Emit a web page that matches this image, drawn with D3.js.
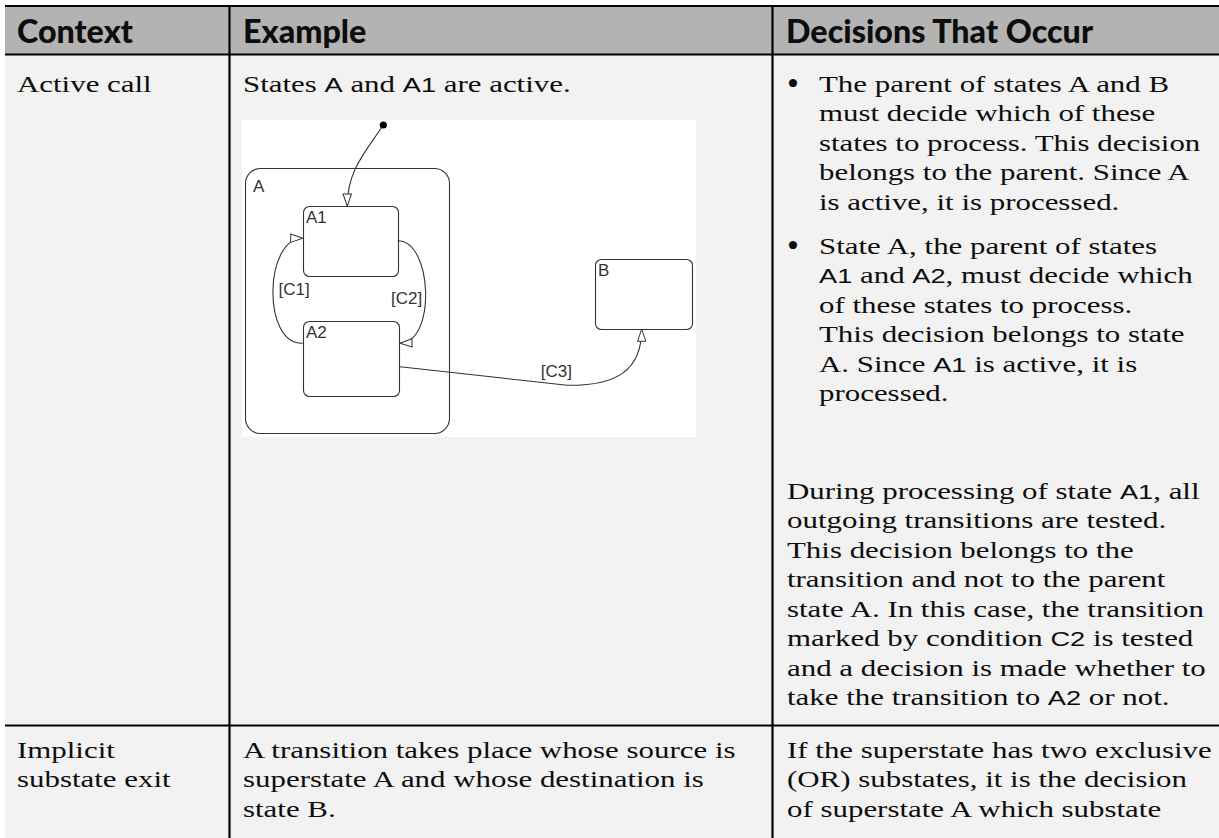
<!DOCTYPE html>
<html><head><meta charset="utf-8">
<script src="https://cdn.jsdelivr.net/npm/d3@7"></script>
<style>html,body{margin:0;padding:0;background:#fff;} svg{display:block;} text{white-space:pre;}</style>
</head><body>
<svg id="chart" width="1219" height="838"></svg>
<script>
// ---------- table content ----------
const headers = ["Context", "Example", "Decisions That Occur"];
const row1Context = ["Active call"];
const row1Example = ["States `A` and `A1` are active."];
const row1Bullet1 = ["The parent of states A and B", "must decide which of these", "states to process. This decision", "belongs to the parent. Since A", "is active, it is processed."];
const row1Bullet2 = ["State A, the parent of states", "`A1` and `A2`, must decide which", "of these states to process.", "This decision belongs to state", "A. Since `A1` is active, it is", "processed."];
const row1Para = ["During processing of state `A1`, all", "outgoing transitions are tested.", "This decision belongs to the", "transition and not to the parent", "state A. In this case, the transition", "marked by condition `C2` is tested", "and a decision is made whether to", "take the transition to `A2` or not."];
const row2Context = ["Implicit", "substate exit"];
const row2Example = ["A transition takes place whose source is", "superstate A and whose destination is", "state B."];
const row2Decision = ["If the superstate has two exclusive", "(OR) substates, it is the decision", "of superstate A which substate"];

// ---------- diagram content (diagram units) ----------
const stateNames = ["A", "A1", "A2", "B"];
const stateLeft = [3, 61, 61, 353];
const stateTop = [48, 86, 201, 139];
const stateRight = [207, 156, 157, 450];
const stateBottom = [313, 156, 276, 209];
const stateRadius = [15, 6, 6, 6];
const junction = [141.3, 5];
const transitionNames = ["default", "C1", "C2", "C3"];
const transitionPaths = [
  [[141.3, 5], [125, 30], [105, 50], [105.3, 86]],
  [[60.7, 223.3], [20, 225], [22, 118], [60.7, 118.3]],
  [[155.7, 120.7], [190, 120], [195, 222], [158, 223.3]],
  [[158, 246.7], [210, 252.5], [270, 259.2], [325, 265.3], [375, 266], [399.7, 250], [399.7, 209.3]]
];
const conditionLabels = ["[C1]", "[C2]", "[C3]"];
const conditionPos = [[52.2, 169.2], [164.7, 177.5], [314.3, 250.8]];

const SERIF = "'Liberation Serif', 'DejaVu Serif', 'Times New Roman', serif";
const SANS = "'Liberation Sans', Arial, sans-serif";
const HEAD = "Lato, 'Open Sans', sans-serif";

const svg = d3.select("#chart");
const W = 1219, H = 838;

const colX = d3.scaleOrdinal().domain(headers).range([5, 229.5, 772.5]);
const colText = d3.scaleOrdinal().domain(headers).range([17, 243, 787]);
const lineStep = 29.5;
const bodyFs = 24;
let stretch = 1;

function drawLine(g, x, yCenter, str) {
  const gg = g.append("g").attr("transform", `translate(${x},${yCenter + bodyFs * 0.33}) scale(${stretch},1)`);
  const t = gg.append("text").attr("x", 0).attr("y", 0)
    .attr("font-size", bodyFs).attr("font-family", SERIF).attr("fill", "#0d0d0d");
  str.split("`").forEach((seg, i) => {
    if (!seg) return;
    const ts = t.append("tspan").text(seg);
    if (i % 2 === 1) ts.attr("font-family", SANS).attr("font-size", bodyFs * 0.88);
  });
  return gg;
}
function measureLine(str) {
  const gg = drawLine(svg, 0, -100, str);
  const w = gg.select("text").node().getComputedTextLength();
  gg.remove();
  return w;
}
stretch = 425 / measureLine(row2Decision[0]);

function measureHead(str, fs) {
  const t = svg.append("text").attr("font-family", HEAD).attr("font-weight", 900).attr("font-size", fs).text(str);
  const w = t.node().getComputedTextLength(); t.remove(); return w;
}
const headFs = 20 * 116 / measureHead(headers[0], 20);

// backgrounds
svg.append("rect").attr("x", 5).attr("y", 6).attr("width", W - 5).attr("height", H - 6).attr("fill", "#f2f2f2");
svg.append("rect").attr("x", 5).attr("y", 6).attr("width", W - 5).attr("height", 48.5).attr("fill", "#b3b3b3");

// header text
const gh = svg.append("g");
headers.forEach(h => {
  gh.append("text").attr("x", colText(h) + (h === headers[2] ? -1 : 0)).attr("y", 31 + headFs * 0.36)
    .attr("font-family", HEAD).attr("font-weight", 900).attr("font-size", headFs).attr("fill", "#0d0d0d").text(h);
});

// body text
const gb = svg.append("g");
const r1 = 84, r2 = 750;
row1Context.forEach((s, i) => drawLine(gb, colText(headers[0]), r1 + i * lineStep, s));
row1Example.forEach((s, i) => drawLine(gb, colText(headers[1]), r1 + i * lineStep, s));
const bx = colText(headers[2]);
[[row1Bullet1, r1], [row1Bullet2, 246]].forEach(([lines, y0]) => {
  gb.append("text").attr("x", bx + 6).attr("y", y0 + 11).attr("text-anchor", "middle")
    .attr("font-family", SERIF).attr("font-size", 34).attr("fill", "#0d0d0d").text("•");
  lines.forEach((s, i) => drawLine(gb, bx + 32, y0 + i * lineStep, s));
});
row1Para.forEach((s, i) => drawLine(gb, bx, 491 + i * lineStep, s));
row2Context.forEach((s, i) => drawLine(gb, colText(headers[0]), r2 + i * lineStep, s));
row2Example.forEach((s, i) => drawLine(gb, colText(headers[1]), r2 + i * lineStep, s));
row2Decision.forEach((s, i) => drawLine(gb, bx, r2 + i * lineStep, s));

// grid lines
const gl = svg.append("g").attr("stroke", "#000").attr("stroke-width", 2.2);
gl.append("line").attr("x1", 5).attr("x2", W).attr("y1", 6).attr("y2", 6);
gl.append("line").attr("x1", 5).attr("x2", W).attr("y1", 54.5).attr("y2", 54.5);
gl.append("line").attr("x1", 5).attr("x2", W).attr("y1", 725.5).attr("y2", 725.5);
[headers[1], headers[2]].forEach(h => {
  gl.append("line").attr("x1", colX(h)).attr("x2", colX(h)).attr("y1", 5).attr("y2", H);
});

// ---------- diagram ----------
const dx = d3.scaleLinear().domain([0, 454]).range([242, 696]);
const dy = d3.scaleLinear().domain([0, 317]).range([120, 437]);
const gd = svg.append("g");
gd.append("rect").attr("x", dx(0)).attr("y", dy(0)).attr("width", dx(454) - dx(0)).attr("height", dy(317) - dy(0)).attr("fill", "#ffffff");

const defs = svg.append("defs");
defs.append("marker").attr("id", "arrow").attr("markerUnits", "userSpaceOnUse")
  .attr("viewBox", "-1 -6 15 12").attr("markerWidth", 15).attr("markerHeight", 12)
  .attr("refX", 12).attr("refY", 0).attr("orient", "auto")
  .append("path").attr("d", "M0,-4.2L12,0L0,4.2Z").attr("fill", "#fff").attr("stroke", "#333").attr("stroke-width", 1);

stateNames.forEach((n, i) => {
  gd.append("rect").attr("x", dx(stateLeft[i]) + 0.5).attr("y", dy(stateTop[i]) + 0.5)
    .attr("width", dx(stateRight[i]) - dx(stateLeft[i])).attr("height", dy(stateBottom[i]) - dy(stateTop[i]))
    .attr("rx", stateRadius[i]).attr("fill", "none").attr("stroke", "#333").attr("stroke-width", 1.1);
  gd.append("text").attr("x", dx(stateLeft[i]) + (i === 0 ? 8 : 3)).attr("y", dy(stateTop[i]) + (i === 0 ? 24 : 17))
    .attr("font-family", SANS).attr("font-size", 17).attr("fill", "#333").text(n);
});

transitionPaths.forEach((pts, k) => {
  const p = d3.path();
  p.moveTo(dx(pts[0][0]), dy(pts[0][1]));
  for (let j = 1; j + 2 < pts.length; j += 3) {
    p.bezierCurveTo(dx(pts[j][0]), dy(pts[j][1]), dx(pts[j + 1][0]), dy(pts[j + 1][1]), dx(pts[j + 2][0]), dy(pts[j + 2][1]));
  }
  gd.append("path").attr("d", p.toString()).attr("fill", "none").attr("stroke", "#333").attr("stroke-width", 1.1)
    .attr("marker-end", "url(#arrow)");
});
gd.append("circle").attr("cx", dx(junction[0])).attr("cy", dy(junction[1])).attr("r", 3.6).attr("fill", "#000");

conditionLabels.forEach((c, i) => {
  gd.append("text").attr("x", dx(conditionPos[i][0])).attr("y", dy(conditionPos[i][1]) + 6)
    .attr("text-anchor", "middle").attr("font-family", SANS).attr("font-size", 17).attr("fill", "#333").text(c);
});
</script>
</body></html>
